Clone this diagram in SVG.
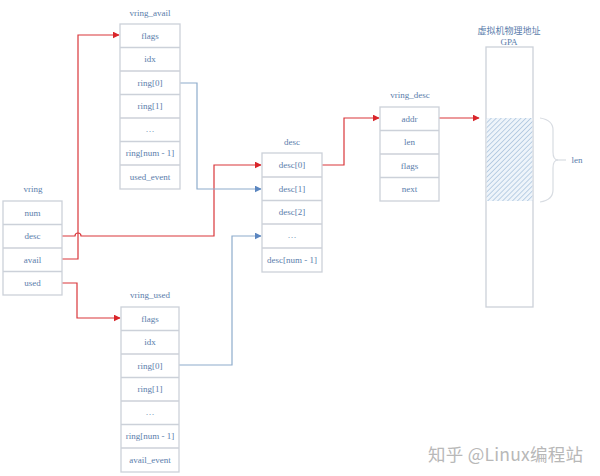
<svg xmlns="http://www.w3.org/2000/svg" width="600" height="476" viewBox="0 0 600 476">
<style>
.box{fill:#fff;stroke:#ccd1d9;stroke-width:1.3}
.sep{stroke:#ccd1d9;stroke-width:1.3}
.t{font-family:"Liberation Serif","Noto Sans CJK SC",serif;font-size:9px;fill:#5a7dab;text-anchor:middle;dominant-baseline:central}
.red{fill:none;stroke:#d9363a;stroke-width:1.2}
.blue{fill:none;stroke:#8eaccc;stroke-width:1.2}
</style>
<defs>
<marker id="ar" viewBox="0 0 10 10" refX="9" refY="5" markerWidth="7" markerHeight="7" orient="auto" markerUnits="userSpaceOnUse"><path d="M0,0 L10,5 L0,10 z" fill="#d9252a"/></marker>
<marker id="ab" viewBox="0 0 10 10" refX="9" refY="5" markerWidth="7" markerHeight="7" orient="auto" markerUnits="userSpaceOnUse"><path d="M0,0 L10,5 L0,10 z" fill="#5b86c0"/></marker>
<pattern id="hatch" width="3.5" height="3.5" patternUnits="userSpaceOnUse" patternTransform="rotate(45)"><rect width="3.5" height="3.5" fill="#eef4fa"/><line x1="0" y1="0" x2="0" y2="3.5" stroke="#8fb1d2" stroke-width="1.1"/></pattern>
</defs>

<g id="connectors">
<path class="red" d="M62,259 H78 V35 H119" marker-end="url(#ar)"/>
<path class="red" d="M62,236 H75 A3,3 0 0 1 81,236 H214 V165 H261" marker-end="url(#ar)"/>
<path class="red" d="M62,283 H77 V318 H120" marker-end="url(#ar)"/>
<path class="red" d="M322,165 H344 V118 H379" marker-end="url(#ar)"/>
<path class="red" d="M439,118 H479" marker-end="url(#ar)"/>
<path class="blue" d="M180,83 H197 V189 H255"/>
<path class="blue" d="M255,189 H261" marker-end="url(#ab)"/>
<path class="blue" d="M179,365 H232 V236 H255"/>
<path class="blue" d="M255,236 H261" marker-end="url(#ab)"/>
</g>

<g id="vring_avail">
<text class="t" x="150" y="13">vring_avail</text>
<rect class="box" x="120" y="24" width="60" height="165"/>
<line class="sep" x1="120" y1="47.5" x2="180" y2="47.5"/>
<line class="sep" x1="120" y1="71" x2="180" y2="71"/>
<line class="sep" x1="120" y1="94.5" x2="180" y2="94.5"/>
<line class="sep" x1="120" y1="118" x2="180" y2="118"/>
<line class="sep" x1="120" y1="141.5" x2="180" y2="141.5"/>
<line class="sep" x1="120" y1="165" x2="180" y2="165"/>
<text class="t" x="150" y="36">flags</text>
<text class="t" x="150" y="59">idx</text>
<text class="t" x="150" y="83">ring[0]</text>
<text class="t" x="150" y="106">ring[1]</text>
<text class="t" x="150" y="129">…</text>
<text class="t" x="150" y="153">ring[num - 1]</text>
<text class="t" x="150" y="177">used_event</text>
</g>

<g id="vring">
<text class="t" x="33" y="189">vring</text>
<rect class="box" x="3" y="201" width="59" height="94"/>
<line class="sep" x1="3" y1="224.5" x2="62" y2="224.5"/>
<line class="sep" x1="3" y1="248" x2="62" y2="248"/>
<line class="sep" x1="3" y1="271.5" x2="62" y2="271.5"/>
<text class="t" x="32.5" y="213">num</text>
<text class="t" x="32.5" y="236">desc</text>
<text class="t" x="32.5" y="260">avail</text>
<text class="t" x="32.5" y="283">used</text>
</g>

<g id="desc">
<text class="t" x="292" y="142">desc</text>
<rect class="box" x="262" y="153" width="60" height="119"/>
<line class="sep" x1="262" y1="177" x2="322" y2="177"/>
<line class="sep" x1="262" y1="200.5" x2="322" y2="200.5"/>
<line class="sep" x1="262" y1="224" x2="322" y2="224"/>
<line class="sep" x1="262" y1="248" x2="322" y2="248"/>
<text class="t" x="292" y="165">desc[0]</text>
<text class="t" x="292" y="189">desc[1]</text>
<text class="t" x="292" y="212">desc[2]</text>
<text class="t" x="292" y="235">…</text>
<text class="t" x="292" y="260">desc[num - 1]</text>
</g>

<g id="vring_desc">
<text class="t" x="410" y="95">vring_desc</text>
<rect class="box" x="380" y="107" width="59" height="94"/>
<line class="sep" x1="380" y1="130.5" x2="439" y2="130.5"/>
<line class="sep" x1="380" y1="154" x2="439" y2="154"/>
<line class="sep" x1="380" y1="177.5" x2="439" y2="177.5"/>
<text class="t" x="409.5" y="119">addr</text>
<text class="t" x="409.5" y="142">len</text>
<text class="t" x="409.5" y="166">flags</text>
<text class="t" x="409.5" y="189">next</text>
</g>

<g id="gpa">
<text class="t" x="509" y="31" font-size="8.5">虚拟机物理地址</text>
<text class="t" x="509" y="42">GPA</text>
<rect class="box" x="486" y="47" width="47" height="260"/>
<rect x="486.7" y="118" width="45.6" height="83" fill="url(#hatch)"/>
<path d="M540,118 Q553,120 553,130 V152 Q553,160 558,160 Q553,160 553,168 V190 Q553,200 540,202" fill="none" stroke="#d8dce2" stroke-width="1.2"/>
<line x1="557" y1="160" x2="566" y2="160" stroke="#d8dce2" stroke-width="1.2"/>
<text class="t" x="577" y="160">len</text>
</g>

<g id="vring_used">
<text class="t" x="150" y="295">vring_used</text>
<rect class="box" x="121" y="307" width="58" height="165"/>
<line class="sep" x1="121" y1="330.5" x2="179" y2="330.5"/>
<line class="sep" x1="121" y1="354" x2="179" y2="354"/>
<line class="sep" x1="121" y1="377.5" x2="179" y2="377.5"/>
<line class="sep" x1="121" y1="401" x2="179" y2="401"/>
<line class="sep" x1="121" y1="424.5" x2="179" y2="424.5"/>
<line class="sep" x1="121" y1="448" x2="179" y2="448"/>
<text class="t" x="150" y="319">flags</text>
<text class="t" x="150" y="342">idx</text>
<text class="t" x="150" y="366">ring[0]</text>
<text class="t" x="150" y="389">ring[1]</text>
<text class="t" x="150" y="412">…</text>
<text class="t" x="150" y="436">ring[num - 1]</text>
<text class="t" x="150" y="460">avail_event</text>
</g>

<text x="428" y="461" font-family="'Noto Sans CJK SC','Noto Sans',sans-serif" font-size="17.5" fill="#b8b8b8" textLength="155" lengthAdjust="spacing">知乎 @Linux编程站</text>
</svg>
